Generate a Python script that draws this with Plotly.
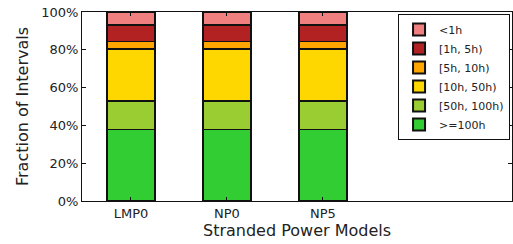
import plotly.graph_objects as go

categories = ["LMP0", "NP0", "NP5"]
series_names = [">=100h", "[50h, 100h)", "[10h, 50h)", "[5h, 10h)", "[1h, 5h)", "<1h"]
series_values = [
    [0.379, 0.379, 0.379],
    [0.150, 0.150, 0.150],
    [0.275, 0.275, 0.275],
    [0.039, 0.039, 0.039],
    [0.088, 0.088, 0.088],
    [0.069, 0.069, 0.069],
]
colors = ["#32CD32", "#9ACD32", "#FFD700", "#FFA500", "#B22222", "#F08080"]
y_ticks = [0, 0.2, 0.4, 0.6, 0.8, 1.0]
y_ticklabels = ["0%", "20%", "40%", "60%", "80%", "100%"]

fig = go.Figure()
for name, vals, col in zip(series_names, series_values, colors):
    fig.add_trace(go.Bar(
        x=list(range(len(categories))), y=vals, name=name,
        marker=dict(color=col, line=dict(color="#111111", width=1.5)),
        width=0.5,
    ))

font = dict(family="DejaVu Sans", size=13, color="#222222")
fig.update_layout(
    width=513, height=244,
    margin=dict(l=82, r=1, t=12, b=43, autoexpand=False),
    barmode="stack",
    plot_bgcolor="white", paper_bgcolor="white",
    font=font,
    showlegend=True,
    legend=dict(
        x=0.735, y=0.99, xanchor="left", yanchor="top",
        traceorder="reversed",
        bordercolor="#111111", borderwidth=1, bgcolor="white",
        font=dict(family="DejaVu Sans", size=11, color="#222222"),
        itemsizing="constant",
    ),
    xaxis=dict(
        range=[-0.51, 3.97], automargin=False,
        tickmode="array", tickvals=list(range(len(categories))), ticktext=categories,
        ticks="inside", ticklen=4, tickcolor="#111111",
        showline=True, linecolor="#111111", linewidth=1, mirror="allticks",
        showgrid=False, zeroline=False,
        title=dict(text="Stranded Power Models", standoff=4),
    ),
    yaxis=dict(
        range=[0, 1], automargin=False,
        tickmode="array", tickvals=y_ticks, ticktext=y_ticklabels,
        ticks="inside", ticklen=4, tickcolor="#111111",
        showline=True, linecolor="#111111", linewidth=1, mirror="allticks",
        showgrid=False, zeroline=False,
        title=dict(text="Fraction of Intervals", standoff=8),
    ),
)
fig.write_html("out.html", config={"displayModeBar": False},
               post_script="document.body.style.margin='0';document.body.style.padding='0';")
